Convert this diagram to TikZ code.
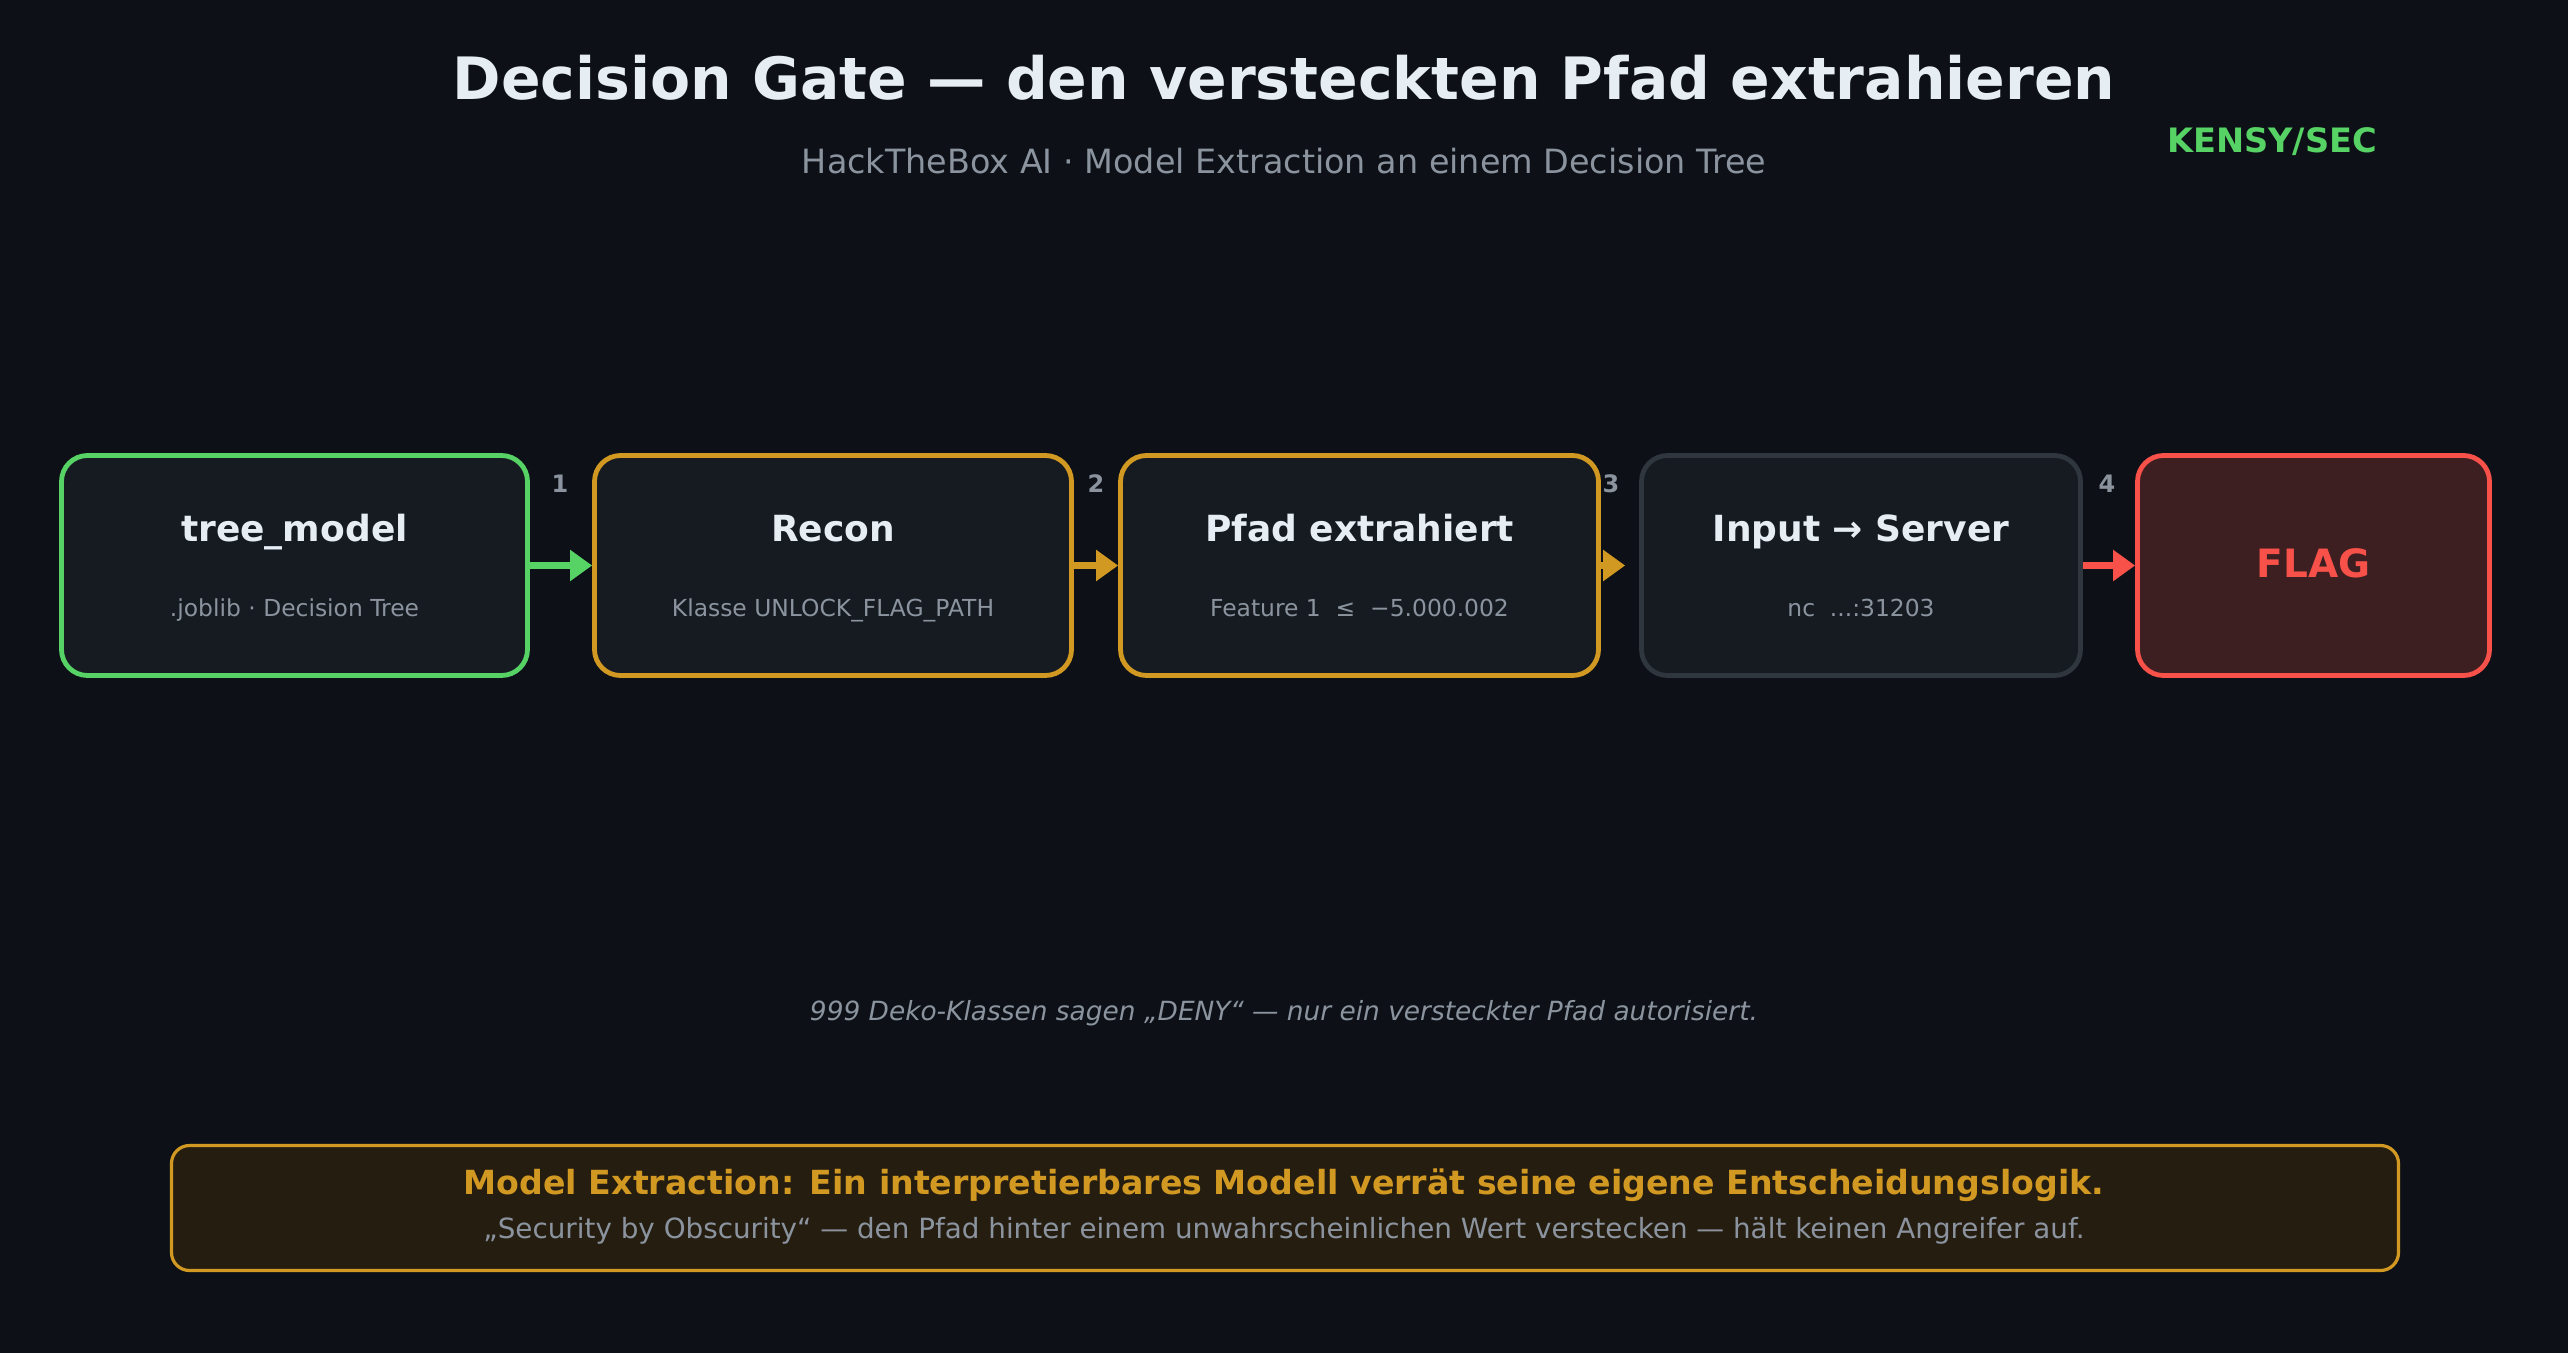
\documentclass[tikz,border=0pt]{standalone}
\usepackage{fontspec}
\setmainfont{DejaVu Sans}
\usetikzlibrary{arrows.meta}
\definecolor{bgdark}{HTML}{0D1117}
\definecolor{boxfill}{HTML}{161B22}
\definecolor{txtlight}{HTML}{E6EDF3}
\definecolor{txtgray}{HTML}{8B949E}
\definecolor{gatgreen}{HTML}{56D364}
\definecolor{gatorange}{HTML}{D29922}
\definecolor{gatgrayline}{HTML}{30363D}
\definecolor{gatred}{HTML}{F85149}
\definecolor{flagfill}{HTML}{3D1F22}
\definecolor{notefill}{HTML}{261D11}
\tikzset{
  stepbox/.style={draw, line width=2.4pt, rounded corners=13pt, fill=boxfill,
    minimum height=110pt, inner sep=0pt},
  boxhead/.style={anchor=base, text=txtlight, font=\bfseries\fontsize{18}{21}\selectfont},
  boxsub/.style={anchor=base, text=txtgray, font=\fontsize{11.7}{14}\selectfont},
  stepnum/.style={anchor=base, text=txtgray, font=\bfseries\fontsize{12}{14}\selectfont},
  flow/.style={-{Triangle[length=11pt,width=15pt]}, line width=3.8pt},
}
\begin{document}
\begin{tikzpicture}[x=0.5pt,y=-0.5pt]
  % background
  \fill[bgdark] (0,0) rectangle (2568,1353);
  \useasboundingbox (0,0) rectangle (2568,1353);
  % header
  \node[anchor=base, text=txtlight, font=\bfseries\fontsize{29.2}{34}\selectfont] (title) at (1284,100)
    {Decision Gate — den versteckten Pfad extrahieren};
  \node[anchor=base, text=txtgray, font=\fontsize{16.7}{19}\selectfont] (subtitle) at (1284,174)
    {HackTheBox AI · Model Extraction an einem Decision Tree};
  \node[anchor=base, text=gatgreen, font=\bfseries\fontsize{16.8}{20}\selectfont] (brand) at (2272,153) {KENSY/SEC};
  % steps
  \node[stepbox, draw=gatgreen, minimum width=233pt] (model) at (294.5,565.5) {};
  \node[stepbox, draw=gatorange, minimum width=238.5pt] (recon) at (833,565.5) {};
  \node[stepbox, draw=gatorange, minimum width=239pt] (pfad) at (1359.5,565.5) {};
  \node[stepbox, draw=gatgrayline, minimum width=219.5pt] (server) at (1861,565.5) {};
  \node[stepbox, draw=gatred, fill=flagfill, minimum width=176pt] (flag) at (2313.5,565.5) {};
  \node[boxhead] (modelhead) at (294.5,541) {tree\_model};
  \node[boxsub] (modelsub) at (294.5,616) {.joblib · Decision Tree};
  \node[boxhead] (reconhead) at (833,541) {Recon};
  \node[boxsub] (reconsub) at (833,616) {Klasse UNLOCK\_FLAG\_PATH};
  \node[boxhead] (pfadhead) at (1359.5,541) {Pfad extrahiert};
  \node[boxsub] (pfadsub) at (1359.5,616) {Feature 1\ \ ≤\ \ −5.000.002};
  \node[boxhead] (serverhead) at (1861,541) {Input → Server};
  \node[boxsub] (serversub) at (1861,616) {nc\ \ ...:31203};
  \node[anchor=base, text=gatred, font=\bfseries\fontsize{19.5}{23}\selectfont] (flaghead) at (2313.5,577) {FLAG};
  % arrows
  \draw[flow, gatgreen] (model) -- (recon);
  \draw[flow, gatorange] (recon) -- (pfad);
  \draw[flow, gatorange, shorten >=7pt] (pfad) -- (server);
  \draw[flow, gatred] (server) -- (flag);
  \node[stepnum] (n1) at (560,492) {1};
  \node[stepnum] (n2) at (1096,492) {2};
  \node[stepnum] (n3) at (1611,492) {3};
  \node[stepnum] (n4) at (2107,492) {4};
  % notes
  \node[anchor=base, text=txtgray, font=\itshape\fontsize{13.2}{16}\selectfont] (deko) at (1284,1020)
    {999 Deko-Klassen sagen „DENY“ — nur ein versteckter Pfad autorisiert.};
  \node[draw=gatorange, fill=notefill, line width=1.6pt, rounded corners=9pt,
    minimum width=1113.5pt, minimum height=62.5pt] (lesson) at (1285,1208) {};
  \node[anchor=base, text=gatorange, font=\bfseries\fontsize{16.6}{19}\selectfont] (lessonhead) at (1284,1194)
    {Model Extraction: Ein interpretierbares Modell verrät seine eigene Entscheidungslogik.};
  \node[anchor=base, text=txtgray, font=\fontsize{13.9}{17}\selectfont] (lessonsub) at (1284,1238)
    {„Security by Obscurity“ — den Pfad hinter einem unwahrscheinlichen Wert verstecken — hält keinen Angreifer auf.};
\end{tikzpicture}
\end{document}
